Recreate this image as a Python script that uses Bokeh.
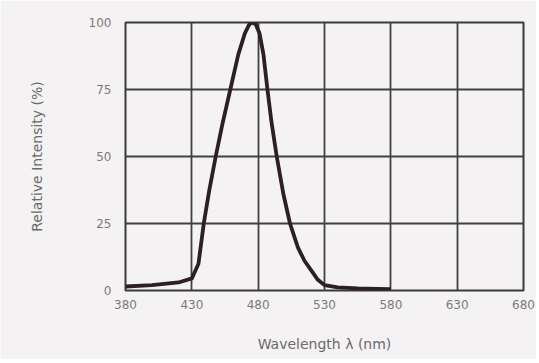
from bokeh.plotting import figure
from bokeh.models import Range1d, FixedTicker
from bokeh.embed import file_html
from bokeh.resources import INLINE

wavelength = [380, 400, 420, 430, 435, 439, 443, 448, 453, 459, 465, 470, 473, 475,
              478, 481, 484, 487, 490, 494, 499, 504, 510, 515, 520, 525, 530, 540,
              555, 570, 580]
intensity = [1.5, 2.0, 3.0, 4.5, 10, 25, 37, 50, 62, 75, 88, 96, 99, 100,
             99.5, 96, 88, 75, 63, 50, 36, 25, 16, 11, 7.5, 4, 2, 1.2,
             0.8, 0.6, 0.5]

x_ticks = [380, 430, 480, 530, 580, 630, 680]
y_ticks = [0, 25, 50, 75, 100]

bg = "#f5f2f4"
p = figure(width=536, height=359, output_backend="svg", toolbar_location=None,
           x_range=Range1d(380, 680), y_range=Range1d(0, 100),
           min_border_left=125, min_border_right=13, min_border_top=22,
           min_border_bottom=69, background_fill_color=bg, border_fill_color=bg)

p.outline_line_color = "#3a3a3a"
p.outline_line_width = 2

for ax in (p.xaxis[0], p.yaxis[0]):
    ax.axis_line_color = None
    ax.major_tick_line_color = None
    ax.minor_tick_line_color = None
    ax.major_label_text_color = "#7a7a7a"
    ax.major_label_text_font = "DejaVu Sans"
    ax.major_label_text_font_size = "12px"
    ax.axis_label_text_color = "#6a6a6a"
    ax.axis_label_text_font = "DejaVu Sans"
    ax.axis_label_text_font_size = "14px"
    ax.axis_label_text_font_style = "normal"

p.xaxis.ticker = FixedTicker(ticks=x_ticks)
p.yaxis.ticker = FixedTicker(ticks=y_ticks)
p.xaxis.major_label_standoff = 3
p.yaxis.major_label_standoff = 8
p.xaxis.axis_label = "Wavelength λ (nm)"
p.yaxis.axis_label = "Relative Intensity (%)"
p.xaxis.axis_label_standoff = 24
p.yaxis.axis_label_standoff = 41

p.xgrid.ticker = FixedTicker(ticks=x_ticks)
p.ygrid.ticker = FixedTicker(ticks=y_ticks)
for g in (p.xgrid[0], p.ygrid[0]):
    g.grid_line_color = "#404040"
    g.grid_line_width = 1.8
    g.grid_line_alpha = 1.0

p.line(wavelength, intensity, line_color="#2e2020", line_width=3.8, line_join="round")

open("out.html", "w").write(file_html(p, INLINE))
